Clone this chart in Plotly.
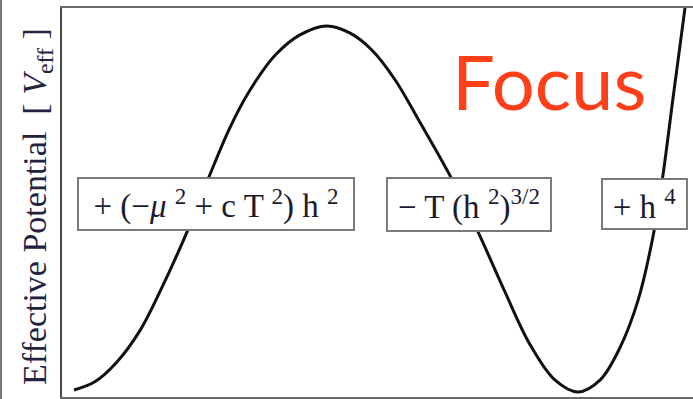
import plotly.graph_objects as go

# Schematic effective potential V(h): field value vs. potential, arbitrary units
h_vals = [0.019, 0.052, 0.087, 0.124, 0.155, 0.198, 0.231, 0.266, 0.298, 0.338,
          0.377, 0.420, 0.456, 0.491, 0.528, 0.567, 0.612, 0.658, 0.702, 0.742,
          0.781, 0.818, 0.853, 0.884, 0.913, 0.937, 0.952, 0.968, 0.989]
v_vals = [0.018, 0.039, 0.090, 0.172, 0.270, 0.424, 0.558, 0.692, 0.789, 0.879,
          0.931, 0.954, 0.936, 0.892, 0.815, 0.707, 0.578, 0.429, 0.270, 0.134,
          0.044, 0.013, 0.044, 0.126, 0.249, 0.416, 0.566, 0.764, 1.021]

# Terms of the potential, shown as labelled boxes along the curve
term_labels = ["+ (\u2212<i>\u03bc</i> <sup>2</sup> + c T <sup>2</sup>) h <sup>2</sup>",
               "\u2212 T (h <sup>2</sup>)<sup>3/2</sup>",
               "+ h <sup>4</sup>"]
term_x = [0.244, 0.645, 0.923]
term_y = [0.495, 0.495, 0.495]
term_w = [278, 166, 87]
term_h = [54, 55, 52]

y_title = "Effective Potential  [ <i>V</i><sub>eff</sub> ]"
focus_text = "Focus"

W, H = 693, 399
ML, MR, MT, MB = 62, 0, 8, 2
pw, ph = W - ML - MR, H - MT - MB


def px_to_paper(px, py):
    """Pixel position on the page -> paper coordinates of the plot area."""
    return (px - ML) / pw, (H - MB - py) / ph


fig = go.Figure()
fig.add_trace(go.Scatter(
    x=h_vals, y=v_vals, mode="lines",
    line=dict(color="#111111", width=3, shape="spline", smoothing=1.0),
    hoverinfo="skip", showlegend=False,
))

serif = "Liberation Serif, Times New Roman, serif"
for lab, x, y, w, hh in zip(term_labels, term_x, term_y, term_w, term_h):
    fig.add_annotation(
        x=x, y=y, xref="x", yref="y", text=lab, showarrow=False,
        font=dict(family=serif, size=33, color="#1b1b30"),
        bgcolor="white", bordercolor="#7a7a7a", borderwidth=2, borderpad=0,
        width=w - 4, height=hh - 4, align="center", valign="middle",
    )

fx, fy = px_to_paper(549, 80)
fig.add_annotation(
    x=fx, y=fy, xref="paper", yref="paper", text=focus_text, showarrow=False,
    font=dict(family="Lato, sans-serif", size=76, color="#ff3f17"),
    xanchor="center", yanchor="middle",
)

tx, ty = px_to_paper(37, 207)
fig.add_annotation(
    x=tx, y=ty, xref="paper", yref="paper", text=y_title, showarrow=False,
    textangle=-90, font=dict(family=serif, size=34, color="#23233d"),
    xanchor="center", yanchor="middle",
)

# thin grey rule along the far left edge
ex, _ = px_to_paper(1, 0)
fig.add_shape(type="line", xref="paper", yref="paper",
              x0=ex, x1=ex, y0=-MB / ph, y1=1 + MT / ph,
              line=dict(color="#777777", width=2))

fig.update_xaxes(range=[0, 1], showgrid=False, zeroline=False, showticklabels=False,
                 ticks="", showline=True, linecolor="#6a6a6a", linewidth=2, mirror=True)
fig.update_yaxes(range=[0, 1], showgrid=False, zeroline=False, showticklabels=False,
                 ticks="", showline=True, linecolor="#4a4a4a", linewidth=2, mirror=False)

fig.update_layout(
    width=W, height=H, margin=dict(l=ML, r=MR, t=MT, b=MB),
    paper_bgcolor="white", plot_bgcolor="white",
)

fig.write_html("out.html")
